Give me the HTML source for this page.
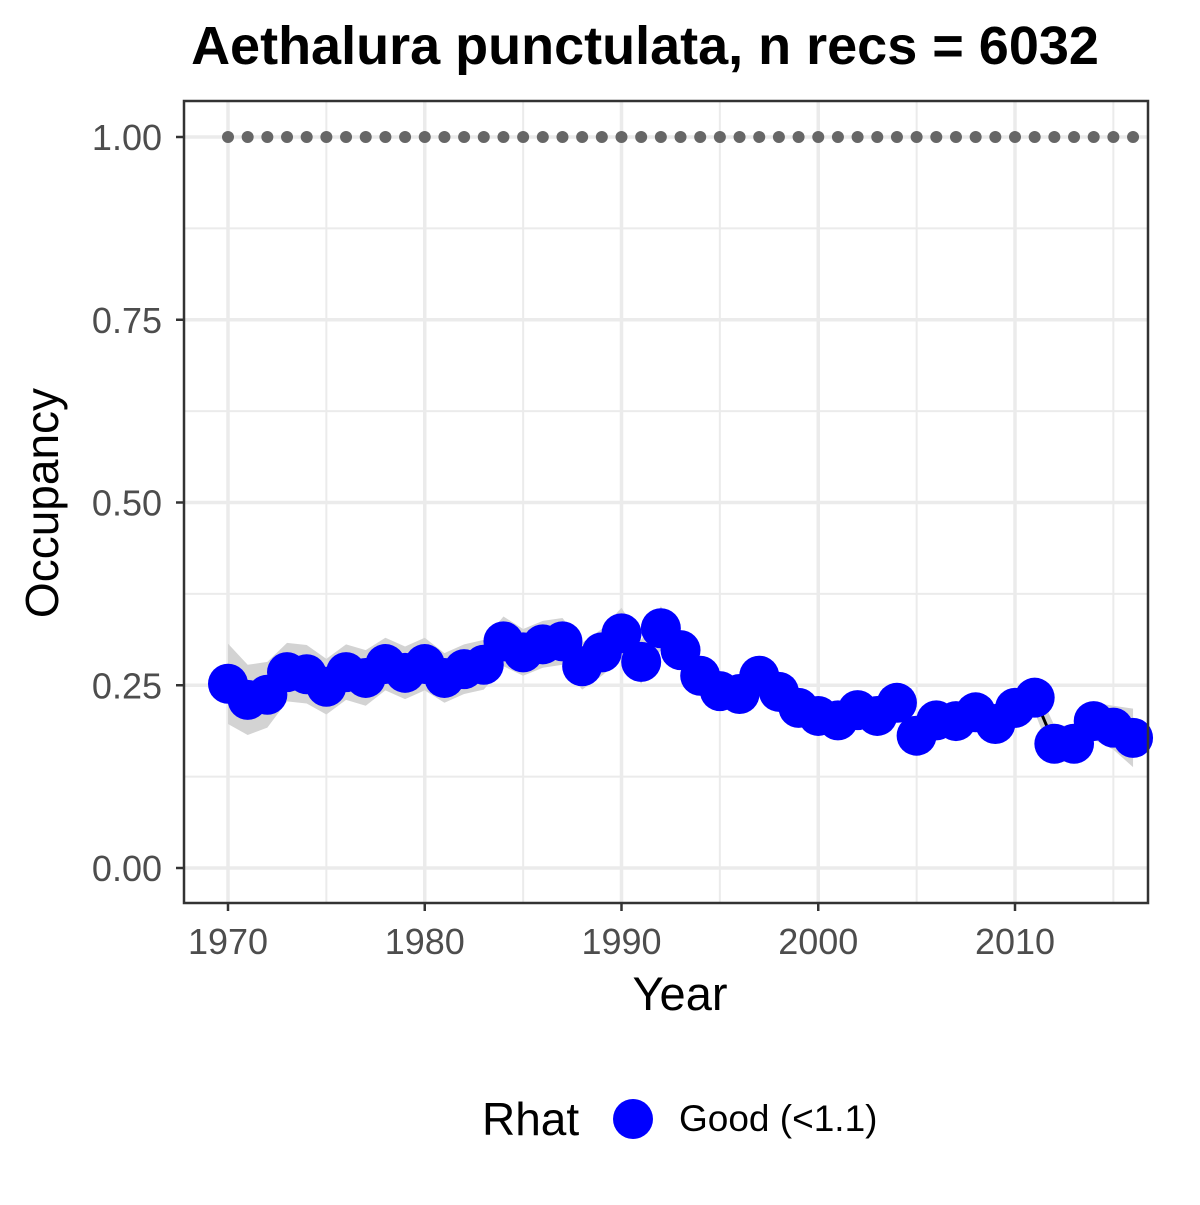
<!DOCTYPE html>
<html><head><meta charset="utf-8"><style>
body{margin:0;background:#fff;}
text{font-family:"Liberation Sans",Arial,sans-serif;}
</style></head><body>
<svg id="chart" width="1200" height="1200" xmlns="http://www.w3.org/2000/svg">
<rect width="1200" height="1200" fill="#fff"/>
<text x="645" y="64" text-anchor="middle" font-size="54" font-weight="bold" fill="#000">Aethalura punctulata, n recs = 6032</text>
<g id="grid"></g>
<g id="ribbon"></g>
<g id="series"></g>
<rect x="184" y="101" width="964" height="802" fill="none" stroke="#333" stroke-width="2.5"/>
<g id="axes"></g>
<text x="680" y="1010" text-anchor="middle" font-size="47" fill="#000">Year</text>
<text transform="translate(58,503) rotate(-90)" text-anchor="middle" font-size="46" fill="#000">Occupancy</text>
<g>
<text x="482" y="1135" font-size="46" fill="#000">Rhat</text>
<circle cx="633" cy="1119" r="20" fill="#0000ff"/>
<text x="679" y="1131" font-size="37" fill="#000">Good (&lt;1.1)</text>
</g>
</svg>
<script>
const years = [1970,1971,1972,1973,1974,1975,1976,1977,1978,1979,1980,1981,1982,1983,1984,1985,1986,1987,1988,1989,1990,1991,1992,1993,1994,1995,1996,1997,1998,1999,2000,2001,2002,2003,2004,2005,2006,2007,2008,2009,2010,2011,2012,2013,2014,2015,2016];
const occupancy = [0.252,0.230,0.237,0.268,0.265,0.248,0.268,0.260,0.279,0.267,0.279,0.260,0.272,0.278,0.310,0.295,0.306,0.310,0.276,0.295,0.321,0.282,0.328,0.298,0.263,0.242,0.238,0.263,0.241,0.219,0.208,0.202,0.216,0.208,0.226,0.181,0.202,0.201,0.213,0.197,0.219,0.233,0.170,0.170,0.201,0.192,0.178];
const ciHalf = [0.055,0.048,0.045,0.04,0.04,0.038,0.038,0.038,0.036,0.036,0.036,0.034,0.034,0.034,0.034,0.032,0.032,0.032,0.032,0.032,0.035,0.03,0.03,0.025,0.022,0.02,0.02,0.02,0.018,0.018,0.018,0.018,0.018,0.018,0.018,0.018,0.018,0.018,0.018,0.018,0.018,0.02,0.025,0.025,0.025,0.03,0.04];
const yTicks = [0,0.25,0.5,0.75,1.0];
const yTickLabels = ["0.00","0.25","0.50","0.75","1.00"];
const xTicks = [1970,1980,1990,2000,2010];
const NS="http://www.w3.org/2000/svg";
const xs = y => 228 + (y-1970)*19.675;
const ys = v => 868 - v*731;
function mk(tag, parent, attrs){const e=document.createElementNS(NS,tag);for(const k in attrs)e.setAttribute(k,attrs[k]);parent.appendChild(e);return e;}
const grid=document.getElementById('grid'), axes=document.getElementById('axes');
for(let i=0;i<yTicks.length-1;i++){const v=(yTicks[i]+yTicks[i+1])/2;const l=mk('line',grid,{x1:184,x2:1148,y1:ys(v),y2:ys(v),stroke:'#ebebeb','stroke-width':2});}
for(let i=0;i<xTicks.length;i++){const v=xTicks[i]+5;const l=mk('line',grid,{x1:xs(v),x2:xs(v),y1:101,y2:903,stroke:'#ebebeb','stroke-width':2});}
yTicks.forEach((v,i)=>{const l=mk('line',grid,{x1:184,x2:1148,y1:ys(v),y2:ys(v),stroke:'#ebebeb','stroke-width':3.5});
 const t=mk('line',axes,{x1:176,x2:184,y1:ys(v),y2:ys(v),stroke:'#333','stroke-width':2.5});
 const tx=mk('text',axes,{x:162,y:ys(v)+13,'text-anchor':'end','font-size':36,fill:'#4d4d4d'});tx.textContent=yTickLabels[i];});
xTicks.forEach(v=>{const l=mk('line',grid,{x1:xs(v),x2:xs(v),y1:101,y2:903,stroke:'#ebebeb','stroke-width':3.5});
 const t=mk('line',axes,{x1:xs(v),x2:xs(v),y1:903,y2:911,stroke:'#333','stroke-width':2.5});
 const tx=mk('text',axes,{x:xs(v),y:954,'text-anchor':'middle','font-size':36,fill:'#4d4d4d'});tx.textContent=v;});
let up=years.map((y,i)=>xs(y)+','+ys(occupancy[i]+ciHalf[i]));
let lo=years.map((y,i)=>xs(y)+','+ys(occupancy[i]-ciHalf[i])).reverse();
const rb=mk('polygon',document.getElementById('ribbon'),{points:up.concat(lo).join(' '),fill:'#d3d3d3'});


const s=document.getElementById('series');
const ln=mk('polyline',s,{points:years.map((y,i)=>xs(y)+','+ys(occupancy[i])).join(' '),fill:'none',stroke:'#000','stroke-width':3});


years.forEach(y=>{const c=mk('circle',s,{cx:xs(y),cy:ys(1),r:6,fill:'#666'});});
years.forEach((y,i)=>{const c=mk('circle',s,{cx:xs(y),cy:ys(occupancy[i]),r:20,fill:'#0000ff'});});
</script>
</body></html>
